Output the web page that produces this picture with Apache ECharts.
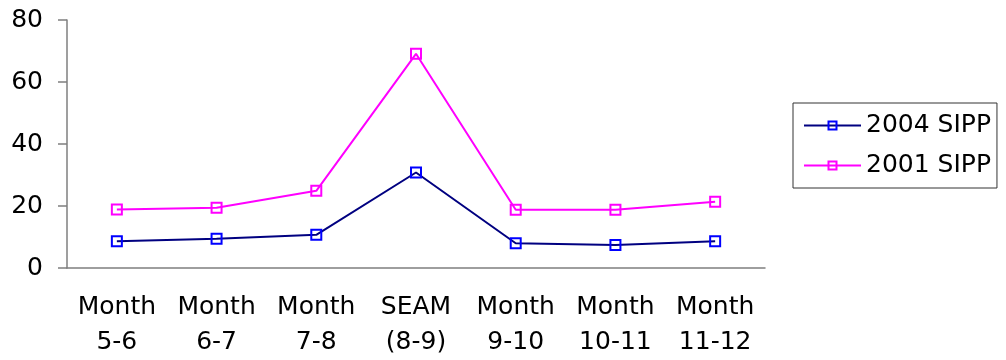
<!DOCTYPE html>
<html>
<head>
<meta charset="utf-8">
<script src="https://cdn.jsdelivr.net/npm/echarts@6/dist/echarts.min.js"></script>
<style>
  html, body { margin: 0; padding: 0; background: #fff; }
  #main { width: 1006px; height: 360px; }
</style>
</head>
<body>
<div id="main"></div>
<script>
// data
var categories = ['Month\n5-6', 'Month\n6-7', 'Month\n7-8', 'SEAM\n(8-9)', 'Month\n9-10', 'Month\n10-11', 'Month\n11-12'];
var sipp2004 = [8.6, 9.4, 10.7, 30.8, 8.0, 7.4, 8.6];
var sipp2001 = [18.9, 19.4, 24.9, 69.1, 18.8, 18.8, 21.4];
var yTicks = [0, 20, 40, 60, 80];

// the original text is widely spaced, DejaVu gets the widths about right
var font = "'DejaVu Sans', 'Liberation Sans', Arial, sans-serif";
var axisGray = '#7f7f7f';

var myChart = echarts.init(document.getElementById('main'));

var option = {
    backgroundColor: '#fff',
    animation: false,
    grid: {left: 67, right: 241, top: 20, bottom: 90},
    legend: {
        orient: 'vertical',
        left: 793,
        top: 103,
        padding: [10, 6, 10, 10],
        itemGap: 15,
        itemWidth: 57,
        itemHeight: 10,
        borderColor: '#333',
        borderWidth: 1,
        textStyle: {fontFamily: font, fontSize: 25, color: '#000'},
        data: ['2004 SIPP', '2001 SIPP']
    },
    xAxis: {
        type: 'category',
        data: categories,
        boundaryGap: true,
        axisLine: {lineStyle: {color: axisGray, width: 1.5}},
        axisTick: {length: 8, lineStyle: {color: axisGray, width: 1.5}},
        axisLabel: {
            interval: 0,
            margin: 22,
            fontFamily: font,
            fontSize: 25,
            lineHeight: 35,
            color: '#000'
        }
    },
    yAxis: {
        type: 'value',
        min: yTicks[0],
        max: yTicks[yTicks.length - 1],
        interval: 20,
        splitLine: {show: false},
        axisLine: {show: true, lineStyle: {color: axisGray, width: 1.5}},
        axisTick: {show: true, length: 9, lineStyle: {color: axisGray, width: 1.5}},
        axisLabel: {margin: 24, fontFamily: font, fontSize: 25, color: '#000'}
    },
    series: [
        {
            name: '2004 SIPP',
            type: 'line',
            data: sipp2004,
            symbol: 'rect',
            symbolSize: 10,
            lineStyle: {color: '#000080', width: 2},
            itemStyle: {color: 'rgba(255,255,255,0)', borderColor: '#0000FF', borderWidth: 2}
        },
        {
            name: '2001 SIPP',
            type: 'line',
            data: sipp2001,
            symbol: 'rect',
            symbolSize: 10,
            lineStyle: {color: '#FF00FF', width: 2},
            itemStyle: {color: 'rgba(255,255,255,0)', borderColor: '#FF00FF', borderWidth: 2}
        }
    ]
};

myChart.setOption(option);
</script>
</body>
</html>
